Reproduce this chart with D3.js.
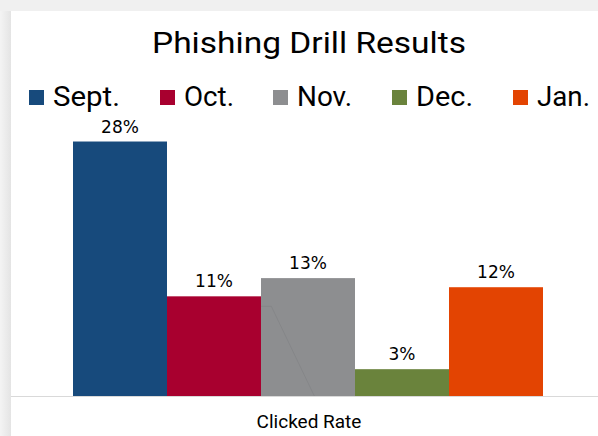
<!DOCTYPE html>
<html lang="en">
<head>
<meta charset="UTF-8">
<title>Phishing Drill Results</title>
<script src="https://d3js.org/d3.v7.min.js"></script>
<style>
    body { margin: 0; background: #f0f0f0; }
    svg { display: block; }
    .title { font-family: Roboto, sans-serif; font-size: 30px; fill: #000; }
    .legend text { font-family: Roboto, sans-serif; font-size: 27px; fill: #000; }
    .label { font-family: "DejaVu Sans", sans-serif; font-size: 17px; fill: #000; }
    .cat { font-family: Roboto, sans-serif; font-size: 19px; fill: #000; }
</style>
</head>
<body>
<svg width="598" height="436"></svg>
<script>
    // data
    const categories = ["Clicked Rate"];
    const months = ["Sept.", "Oct.", "Nov.", "Dec.", "Jan."];
    const clicked = [0.28, 0.11, 0.13, 0.03, 0.12];
    const colors = ["#174a7c", "#a8002f", "#8d8e90", "#6a833c", "#e34402"];

    const W = 598, H = 436;
    const svg = d3.select("svg");

    // page frame: grey margin round the white chart area
    svg.append("rect").attr("width", W).attr("height", H).attr("fill", "#f0f0f0");
    const grad = svg.append("defs").append("linearGradient").attr("id", "shade");
    grad.append("stop").attr("offset", "0").attr("stop-color", "#f4f4f4");
    grad.append("stop").attr("offset", "1").attr("stop-color", "#e4e4e4");
    svg.append("rect").attr("x", 0).attr("y", 11).attr("width", 11).attr("height", H)
        .attr("fill", "url(#shade)");
    svg.append("rect").attr("x", 11).attr("y", 11).attr("width", W).attr("height", H)
        .attr("fill", "#fff");

    // scales
    const x0 = d3.scaleBand().domain(categories).range([73, 543]);
    const x1 = d3.scaleBand().domain(months).range([0, x0.bandwidth()]);
    const y = d3.scaleLinear().domain([0, 0.3]).range([396.5, 123.3]);
    const color = d3.scaleOrdinal().domain(months).range(colors);

    // title
    svg.append("text").attr("class", "title")
        .attr("x", 309).attr("y", 53).attr("text-anchor", "middle")
        .attr("textLength", 314).attr("lengthAdjust", "spacingAndGlyphs")
        .text("Phishing Drill Results");

    // legend
    const legendX = [29, 160, 273, 392, 513];
    const textW = [67, 50, 55, 57, 53];
    const legend = svg.append("g").attr("class", "legend")
        .selectAll("g").data(months).join("g")
        .attr("transform", (d, i) => `translate(${legendX[i]},90)`);
    legend.append("rect").attr("width", 15).attr("height", 15).attr("fill", d => color(d));
    legend.append("text").attr("x", 24).attr("y", 16)
        .attr("textLength", (d, i) => textW[i]).attr("lengthAdjust", "spacingAndGlyphs")
        .text(d => d);

    // bars
    const rows = months.map((m, i) => ({ month: m, value: clicked[i] }));
    const g = svg.append("g").attr("transform", `translate(${x0(categories[0])},0)`);
    g.selectAll("rect").data(rows).join("rect")
        .attr("x", d => x1(d.month))
        .attr("y", d => y(d.value))
        .attr("width", x1.bandwidth())
        .attr("height", d => y(0) - y(d.value))
        .attr("fill", d => color(d.month));

    // faint leader line left inside the Nov. bar
    const nov = x1("Nov.");
    const bw = x1.bandwidth();
    g.append("polyline")
        .attr("points", [[nov, y(0.099)], [nov + bw * 0.11, y(0.099)], [nov + bw * 0.57, y(0)]].join(" "))
        .attr("fill", "none")
        .attr("stroke", "#838486").attr("stroke-width", 0.8);

    // data labels
    g.selectAll("text.label").data(rows).join("text")
        .attr("class", "label")
        .attr("x", d => x1(d.month) + bw / 2)
        .attr("y", d => y(d.value) - 9)
        .attr("text-anchor", "middle")
        .text(d => d3.format(".0%")(d.value));

    // category axis
    svg.append("line").attr("x1", 11).attr("x2", W)
        .attr("y1", y(0)).attr("y2", y(0))
        .attr("stroke", "#d9d9d9").attr("stroke-width", 1);
    svg.append("text").attr("class", "cat")
        .attr("x", x0(categories[0]) + x0.bandwidth() / 2 + 1).attr("y", 428)
        .attr("text-anchor", "middle")
        .text(categories[0]);
</script>
</body>
</html>
